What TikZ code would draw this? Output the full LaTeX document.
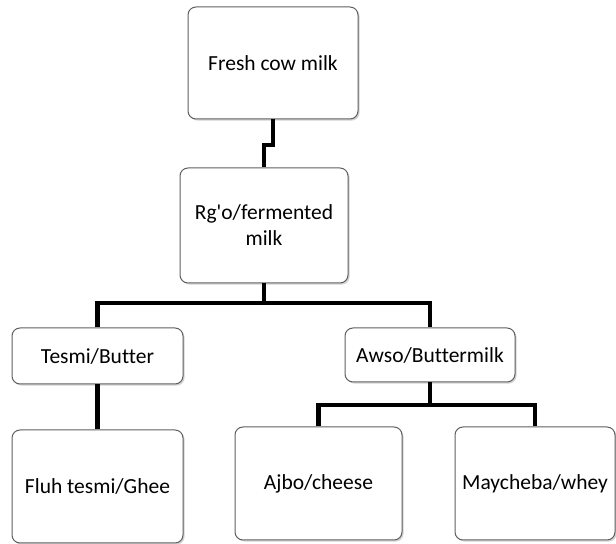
\documentclass[tikz,border=0pt]{standalone}
\usepackage{fontspec}
\setmainfont{Carlito}[Ligatures={NoCommon}]
\usetikzlibrary{shadows}

\begin{document}
\begin{tikzpicture}[x=0.5pt,y=-0.5pt,
        box/.style={draw=gray!75!black, fill=white, rounded corners=4pt,
            line width=0.5pt, align=center, inner sep=0pt,
            drop shadow={shadow xshift=0.8pt, shadow yshift=-0.8pt, opacity=0.35},
            font=\fontsize{10.75}{13}\selectfont},
        link/.style={line width=2.2pt}]
    \useasboundingbox (0,0) rectangle (616,544);
    % tree of products
    \node[box, minimum width=85pt, minimum height=56pt] (fresh) at (273,63) {Fresh cow milk};
    \node[box, minimum width=84pt, minimum height=57.5pt] (rgo) at (264,225.5)
        {Rg\textquotesingle o/fermented\\milk};
    \node[box, minimum width=85.5pt, minimum height=28pt] (tesmi) at (97.5,356) {Tesmi/Butter};
    \node[box, minimum width=85pt, minimum height=27pt] (awso) at (430,355) {Awso/Buttermilk};
    \node[box, minimum width=85.5pt, minimum height=56.5pt] (fluh) at (97.5,486.5) {Fluh tesmi/Ghee};
    \node[box, minimum width=83.5pt, minimum height=56.5pt] (ajbo) at (318.5,483.5) {Ajbo/cheese};
    \node[box, minimum width=80pt, minimum height=56.5pt] (may) at (535,483.5) {Maycheba/whey};

    \coordinate (split0) at (273,145);
    \coordinate (split1) at (264,303);
    \coordinate (split2) at (430,405);

    \draw[link] (fresh.south) -- (split0) -| (rgo.north);
    \draw[link] (rgo.south) -- (split1);
    \draw[link] (tesmi.north) |- (split1) -| (awso.north);
    \draw[link] (tesmi.south) -- (fluh.north);
    \draw[link] (awso.south) -- (split2);
    \draw[link] (ajbo.north) |- (split2) -| (may.north);
\end{tikzpicture}
\end{document}
